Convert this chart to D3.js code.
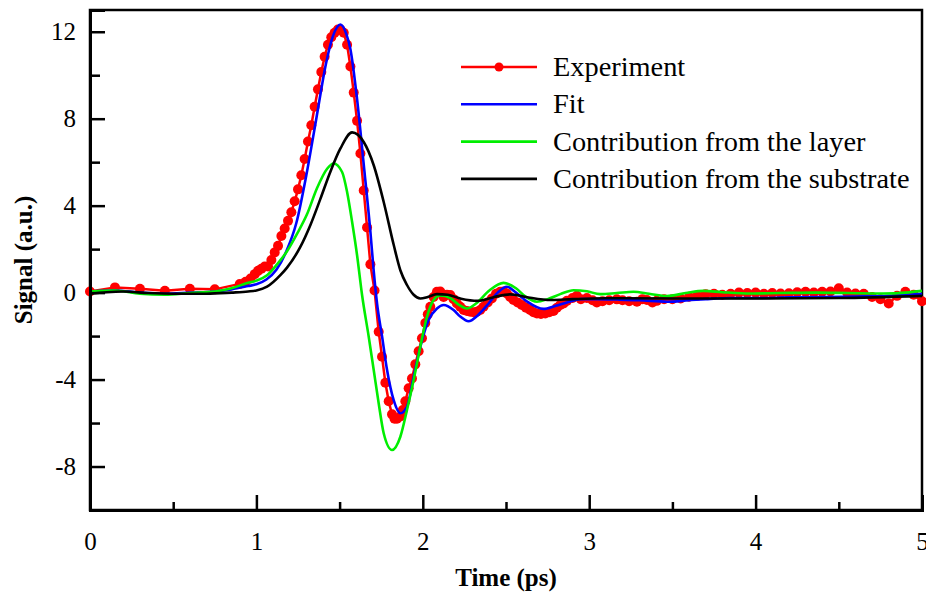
<!DOCTYPE html>
<html>
<head>
<meta charset="utf-8">
<script src="https://cdn.jsdelivr.net/npm/d3@7"></script>
<style>
  body { margin: 0; background: #fff; }
  text { font-family: "Liberation Serif", "Times New Roman", serif; }
</style>
</head>
<body>
<div id="chart"></div>
<script>
// Experiment: time (ps) and signal (a.u.)
const expTime = [0, 0.15, 0.30, 0.45, 0.60, 0.75, 0.90, 0.935, 0.965, 0.99, 1.01, 1.03, 1.05, 1.07, 1.09, 1.11,
  1.13, 1.15, 1.17, 1.19, 1.21, 1.23, 1.25, 1.27, 1.29, 1.31, 1.33, 1.35, 1.37, 1.39, 1.41, 1.43, 1.45, 1.47,
  1.49, 1.505, 1.525, 1.545, 1.565, 1.585, 1.605, 1.625, 1.645, 1.665, 1.685, 1.71, 1.735, 1.755, 1.775, 1.795,
  1.815, 1.83, 1.845, 1.865, 1.88, 1.895, 1.915, 1.935, 1.955, 1.975, 1.995, 2.015, 2.03, 2.045, 2.065, 2.085,
  2.105, 2.125, 2.145, 2.165, 2.185, 2.205, 2.225, 2.245, 2.265, 2.285, 2.305, 2.325, 2.345, 2.365, 2.39, 2.415,
  2.44, 2.465, 2.485, 2.505, 2.525, 2.545, 2.57, 2.595, 2.62, 2.645, 2.665, 2.686, 2.71, 2.736, 2.76, 2.786,
  2.806, 2.826, 2.846, 2.866, 2.9, 2.926, 2.95, 2.986, 3.02, 3.046, 3.08, 3.12, 3.166, 3.2, 3.24, 3.287, 3.32,
  3.347, 3.38, 3.406, 3.45, 3.5, 3.55, 3.6, 3.65, 3.7, 3.75, 3.8, 3.85, 3.9, 3.95, 4.0, 4.05, 4.1, 4.15, 4.2,
  4.25, 4.3, 4.35, 4.4, 4.45, 4.5, 4.55, 4.6, 4.65, 4.7, 4.75, 4.8, 4.85, 4.9, 4.95, 5.0];
const expSignal = [0.05, 0.24, 0.18, 0.08, 0.18, 0.15, 0.4, 0.5, 0.65, 0.85, 1.0, 1.1, 1.2, 1.2, 1.5, 1.85,
  2.15, 2.6, 2.95, 3.3, 3.7, 4.2, 4.75, 5.4, 6.15, 6.95, 7.7, 8.55, 9.35, 10.15, 10.85, 11.4, 11.75, 11.95,
  12.1, 12.1, 11.95, 11.4, 10.4, 9.2, 7.9, 6.4, 4.7, 3.0, 1.3, 0.1, -1.8, -2.95, -4.15, -5.0,
  -5.6, -5.8, -5.8, -5.7, -5.4, -5.0, -4.4, -3.95, -3.3, -2.7, -2.1, -1.4, -1.0, -0.65, -0.2, 0.04,
  0.05, -0.2, -0.1, -0.11, -0.3, -0.5, -0.65, -0.8, -0.85, -0.88, -0.9, -0.88, -0.8, -0.65, -0.45, -0.27,
  -0.05, 0.04, 0.05, -0.04, -0.2, -0.34, -0.45, -0.57, -0.7, -0.8, -0.9, -0.96, -0.98, -0.96, -0.9, -0.85,
  -0.7, -0.57, -0.5, -0.38, -0.25, -0.15, -0.3, -0.25, -0.35, -0.45, -0.4, -0.35, -0.31, -0.35, -0.4, -0.42, -0.3,
  -0.34, -0.45, -0.38, -0.3, -0.3, -0.27, -0.19, -0.15, -0.07, -0.05, -0.1, -0.05, 0, -0.02, 0, -0.05, -0.02, -0.04, -0.03,
  0.02, 0.04, 0, 0.04, 0.05, 0.2, 0, -0.04, -0.05, -0.2, -0.3, -0.5, -0.15, 0.04, -0.1, -0.4];

// Fit
const fitTime = [0, 0.15, 0.3, 0.45, 0.6, 0.75, 0.85, 0.95, 1.0, 1.06, 1.12, 1.18, 1.24, 1.3, 1.36, 1.42, 1.46,
  1.505, 1.54, 1.565, 1.605, 1.645, 1.685, 1.705, 1.725, 1.755, 1.785, 1.825, 1.865, 1.905, 1.945, 1.985, 2.035,
  2.085, 2.125, 2.185, 2.225, 2.275, 2.33, 2.385, 2.45, 2.505, 2.56, 2.625, 2.725, 2.8, 2.866, 2.95, 3.05, 3.17,
  3.3, 3.47, 3.6, 3.7, 3.85, 4.0, 4.2, 4.4, 4.6, 4.8, 5.0];
const fitSignal = [0.05, 0.1, 0.0, -0.05, 0.0, 0.05, 0.15, 0.3, 0.38, 0.6, 1.05, 1.9, 3.2, 5.4, 8.0, 10.6, 11.8,
  12.33, 11.9, 11.2, 8.9, 5.9, 2.8, 1.0, -0.5, -2.0, -3.55, -4.95, -5.55, -5.25, -3.87, -2.5, -1.26,
  -0.73, -0.57, -0.8, -1.1, -1.32, -1.05, -0.6, 0.0, 0.27, 0.0, -0.4, -0.75, -0.6, -0.45, -0.3, -0.3, -0.32,
  -0.35, -0.42, -0.35, -0.3, -0.25, -0.25, -0.22, -0.2, -0.18, -0.15, -0.05];

// Contribution from the layer
const layerTime = [0, 0.15, 0.3, 0.45, 0.6, 0.75, 0.85, 0.95, 1.0, 1.064, 1.124, 1.184, 1.244, 1.304, 1.364, 1.425,
  1.464, 1.515, 1.545, 1.575, 1.605, 1.635, 1.675, 1.705, 1.735, 1.765, 1.815, 1.865, 1.905, 1.945, 1.985, 2.025,
  2.065, 2.105, 2.165, 2.215, 2.265, 2.32, 2.4, 2.485, 2.56, 2.62, 2.686, 2.75, 2.826, 2.906, 2.986, 3.066, 3.166,
  3.266, 3.36, 3.467, 3.58, 3.687, 3.8, 3.967, 4.15, 4.368, 4.55, 4.768, 4.9, 5.0];
const layerSignal = [0.05, 0.1, -0.05, -0.1, -0.02, 0.05, 0.2, 0.45, 0.55, 0.8, 1.3, 1.9, 2.7, 3.6, 4.8, 5.7,
  5.94, 5.55, 4.63, 3.26, 1.72, -0.11, -2.03, -3.56, -5.1, -6.47, -7.24, -6.63, -5.4, -4.02, -2.49, -1.11,
  -0.34, -0.13, -0.25, -0.55, -0.73, -0.5, 0.1, 0.45, 0.2, -0.2, -0.42, -0.3, -0.07, 0.11, 0.06, -0.07, -0.02,
  0.04, -0.05, -0.16, -0.02, 0.08, 0.02, -0.04, -0.02, 0, -0.02, -0.04, 0.0, 0.08];

// Contribution from the substrate
const substrateTime = [0, 0.1, 0.2, 0.35, 0.5, 0.7, 0.85, 0.95, 1.0, 1.064, 1.144, 1.184, 1.264, 1.324, 1.384,
  1.444, 1.505, 1.575, 1.645, 1.705, 1.765, 1.825, 1.865, 1.905, 1.945, 1.985, 2.03, 2.085, 2.15, 2.23, 2.33,
  2.43, 2.525, 2.62, 2.77, 2.9, 3.1, 3.5, 4.0, 4.5, 5.0];
const substrateSignal = [-0.05, 0.02, 0.05, -0.02, -0.05, -0.05, 0.0, 0.05, 0.1, 0.27, 0.8, 1.15, 2.1, 3.1, 4.3,
  5.55, 6.63, 7.37, 6.93, 5.86, 4.17, 2.2, 1.03, 0.35, -0.1, -0.27, -0.2, -0.07, -0.1, -0.28, -0.38,
  -0.2, -0.08, -0.2, -0.34, -0.3, -0.26, -0.27, -0.27, -0.25, -0.15];

const legendLabels = ["Experiment", "Fit", "Contribution from the layer", "Contribution from the substrate"];
const seriesColors = ["#ff0000", "#0000ff", "#00ee00", "#000000"];
const xTicks = [0, 1, 2, 3, 4, 5];
const xMinorTicks = [0.5, 1.5, 2.5, 3.5, 4.5];
const yTicks = [-8, -4, 0, 4, 8, 12];
const yMinorTicks = [-6, -2, 2, 6, 10];

const width = 926, height = 593;
const margin = { top: 10, right: 4, bottom: 83, left: 90 };
const innerW = width - margin.left - margin.right;
const innerH = height - margin.top - margin.bottom;

const svg = d3.select("#chart").append("svg")
  .attr("width", width)
  .attr("height", height);

const g = svg.append("g")
  .attr("transform", `translate(${margin.left},${margin.top})`);

const xScale = d3.scaleLinear().domain([0, 5]).range([0, innerW]);
const yScale = d3.scaleLinear().domain([-10, 13]).range([innerH, 0]);

// frame (top and right sides)
g.append("rect")
  .attr("width", innerW).attr("height", innerH)
  .attr("fill", "none").attr("stroke", "#000").attr("stroke-width", 2.5);

// series
const zip = (ts, vs) => ts.map((t, i) => [t, vs[i]]);
const line = d3.line()
  .x(d => xScale(d[0]))
  .y(d => yScale(d[1]));

const expData = zip(expTime, expSignal);
g.append("path").datum(expData)
  .attr("d", line.curve(d3.curveLinear))
  .attr("fill", "none").attr("stroke", seriesColors[0]).attr("stroke-width", 2.5);
g.selectAll("circle.exp").data(expData).enter().append("circle")
  .attr("class", "exp")
  .attr("cx", d => xScale(d[0]))
  .attr("cy", d => yScale(d[1]))
  .attr("r", 5)
  .attr("fill", seriesColors[0]);

line.curve(d3.curveMonotoneX);
[[fitTime, fitSignal], [layerTime, layerSignal], [substrateTime, substrateSignal]].forEach((s, i) => {
  g.append("path").datum(zip(s[0], s[1]))
    .attr("d", line)
    .attr("fill", "none")
    .attr("stroke", seriesColors[i + 1])
    .attr("stroke-width", 2.6)
    .attr("stroke-linejoin", "round");
});

// axes, ticks pointing inward; plain hyphen for negatives
const fmt = d => String(d);
const xAxis = g.append("g")
  .attr("transform", `translate(0,${innerH})`)
  .call(d3.axisBottom(xScale).tickValues(xTicks).tickSize(-15).tickPadding(22).tickFormat(fmt));
const xMinor = g.append("g")
  .attr("transform", `translate(0,${innerH})`)
  .call(d3.axisBottom(xScale).tickValues(xMinorTicks).tickSize(-8).tickFormat(""));
const yAxis = g.append("g")
  .call(d3.axisLeft(yScale).tickValues(yTicks).tickSize(-15).tickPadding(14).tickFormat(fmt));
const yMinor = g.append("g")
  .call(d3.axisLeft(yScale).tickValues(yMinorTicks).tickSize(-10).tickFormat(""));

[xAxis, xMinor, yAxis, yMinor].forEach(a => {
  a.select(".domain").attr("stroke-width", 3);
  a.selectAll(".tick line").attr("stroke-width", 2.5);
  a.selectAll("text")
    .attr("font-family", "Liberation Serif")
    .attr("font-size", "25px")
    .attr("fill", "#000");
});

// axis titles
svg.append("text")
  .attr("x", margin.left + innerW / 2)
  .attr("y", 586)
  .attr("text-anchor", "middle")
  .attr("font-size", "25px")
  .attr("font-weight", "bold")
  .text("Time (ps)");

svg.append("text")
  .attr("transform", `translate(32,${margin.top + innerH / 2}) rotate(-90)`)
  .attr("text-anchor", "middle")
  .attr("font-size", "25px")
  .attr("font-weight", "bold")
  .text("Signal (a.u.)");

// legend
const legend = svg.append("g").attr("transform", "translate(461,67)");
legendLabels.forEach((label, i) => {
  const row = legend.append("g").attr("transform", `translate(0,${i * 37.3})`);
  row.append("line")
    .attr("x1", 0).attr("x2", 76)
    .attr("stroke", seriesColors[i]).attr("stroke-width", 2.6);
  if (i === 0) {
    row.append("circle").attr("cx", 38).attr("r", 4.5).attr("fill", seriesColors[0]);
  }
  row.append("text")
    .attr("transform", "translate(92,9) scale(1.05,1)")
    .attr("font-size", "27px")
    .text(label);
});
</script>
</body>
</html>
